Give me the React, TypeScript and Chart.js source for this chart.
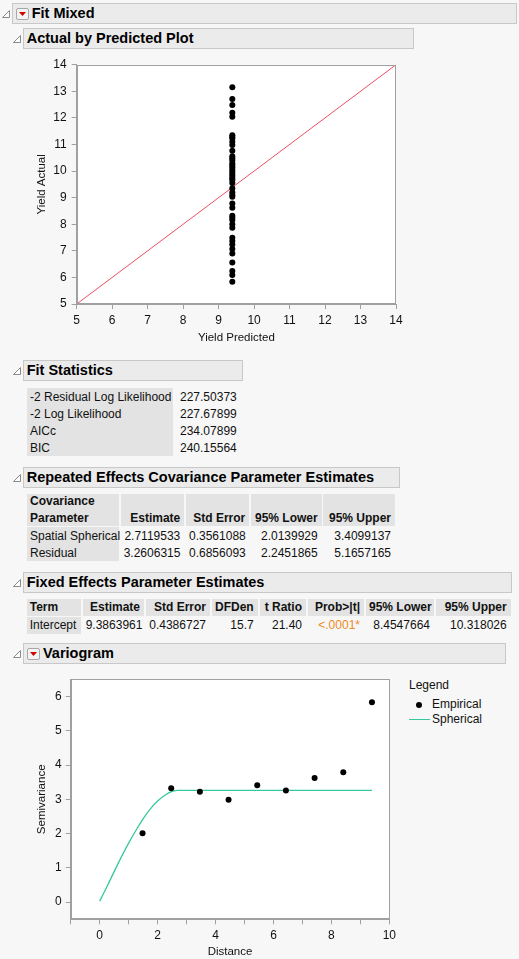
import { useEffect, useRef } from 'react'
import { Chart, registerables } from 'chart.js'

Chart.register(...registerables)

// Actual by Predicted: every row has the same predicted value (intercept-only model)
const predictedYield = 9.3863961
const actualYield = [
  13.15, 12.71, 12.48, 12.19, 12.04, 11.35, 11.29, 11.23, 11.1, 10.98, 10.76,
  10.56, 10.48, 10.41, 10.29, 10.22, 10.14, 10.05, 9.97, 9.89, 9.81, 9.73,
  9.66, 9.55, 9.35, 9.2, 9.1, 9.03, 8.78, 8.62, 8.32, 8.24, 8.16, 8.0, 7.87,
  7.49, 7.37, 7.24, 7.07, 6.9, 6.56, 6.24, 6.09, 5.84,
]
const fitLine = [5, 14]

// Variogram
const empiricalDistance = [1.48, 2.47, 3.46, 4.45, 5.44, 6.43, 7.42, 8.41, 9.4]
const empiricalSemivariance = [2.01, 3.32, 3.22, 2.99, 3.41, 3.26, 3.62, 3.79, 5.83]
const sphericalDistance = [0, 0.25, 0.5, 0.75, 1, 1.25, 1.5, 1.75, 2, 2.25, 2.5, 2.7, 9.4]
const sphericalSemivariance = [0.03, 0.45, 0.89, 1.32, 1.72, 2.09, 2.43, 2.72, 2.95, 3.12, 3.23, 3.26, 3.26]
const semivarianceTicks = [0, 1, 2, 3, 4, 5, 6]

// Fit Statistics
const fitStatLabels = ['-2 Residual Log Likelihood', '-2 Log Likelihood', 'AICc', 'BIC']
const fitStatValues = ['227.50373', '227.67899', '234.07899', '240.15564']

// Repeated Effects Covariance Parameter Estimates
const covParams = ['Spatial Spherical', 'Residual']
const covEstimate = ['2.7119533', '3.2606315']
const covStdError = ['0.3561088', '0.6856093']
const covLower = ['2.0139929', '2.2451865']
const covUpper = ['3.4099137', '5.1657165']

// Fixed Effects Parameter Estimates
const fixedTerms = ['Intercept']
const fixedEstimate = ['9.3863961']
const fixedStdError = ['0.4386727']
const fixedDFDen = ['15.7']
const fixedTRatio = ['21.40']
const fixedProb = ['<.0001*']
const fixedLower = ['8.4547664']
const fixedUpper = ['10.318026']

const FONT = '"Liberation Sans", Arial, sans-serif'
const PAGE_BG = '#F7F7F7'
const CELL_BG = '#E3E3E3'
const AXIS = '#A0A0A0'

const framePlugin = {
  id: 'frame',
  beforeDraw(chart: any) {
    const { ctx, chartArea } = chart
    ctx.save()
    ctx.fillStyle = '#fff'
    ctx.fillRect(chartArea.left, chartArea.top, chartArea.width, chartArea.height)
    ctx.restore()
  },
  afterDraw(chart: any) {
    const { ctx, chartArea } = chart
    ctx.save()
    ctx.strokeStyle = AXIS
    ctx.lineWidth = 1
    ctx.strokeRect(
      Math.round(chartArea.left) + 0.5,
      Math.round(chartArea.top) + 0.5,
      Math.round(chartArea.width) - 1,
      Math.round(chartArea.height) - 1
    )
    ctx.restore()
  },
}

function axis(opts: any) {
  return {
    type: 'linear',
    min: opts.min,
    max: opts.max,
    ticks: {
      stepSize: 1,
      color: '#111',
      padding: opts.tickPad,
      font: { family: FONT, size: 12 },
      callback: opts.callback,
    },
    grid: { drawOnChartArea: false, color: AXIS, tickLength: 5 },
    border: { color: AXIS },
    title: {
      display: true,
      text: opts.title,
      color: '#111',
      font: { family: FONT, size: 11.5 },
      padding: opts.titlePad,
    },
    afterFit: opts.afterFit,
    afterBuildTicks: opts.tickValues
      ? (s: any) => {
          s.ticks = opts.tickValues.map((value: number) => ({ value }))
        }
      : undefined,
  }
}

function ActualByPredicted() {
  const canvasRef = useRef<HTMLCanvasElement>(null)

  useEffect(() => {
    if (!canvasRef.current) return
    const chart = new Chart(canvasRef.current, {
      type: 'scatter',
      data: {
        datasets: [
          {
            type: 'line',
            data: fitLine.map((v) => ({ x: v, y: v })),
            borderColor: '#EC4E62',
            borderWidth: 1,
            pointRadius: 0,
            order: 2,
          },
          {
            data: actualYield.map((y) => ({ x: predictedYield, y })),
            backgroundColor: '#000',
            borderWidth: 0,
            pointRadius: 3,
            order: 1,
          },
        ] as any,
      },
      options: {
        responsive: false,
        animation: false,
        layout: { padding: { top: 14.7, right: 24, left: 0, bottom: 0 } },
        plugins: { legend: { display: false }, tooltip: { enabled: false } },
        scales: {
          x: axis({
            min: 5,
            max: 14,
            title: 'Yield Predicted',
            tickPad: 4,
            titlePad: { top: 0, bottom: 5.5 },
            afterFit: (s: any) => { s.height = 46 },
          }),
          y: axis({
            min: 5,
            max: 14,
            title: 'Yield Actual',
            tickPad: 5,
            titlePad: { top: 34.8, bottom: 0 },
            afterFit: (s: any) => { s.width = 76.7 },
          }),
        } as any,
      },
      plugins: [framePlugin],
    })
    return () => chart.destroy()
  }, [])

  return (
    <canvas
      ref={canvasRef}
      width={420}
      height={300}
      style={{ position: 'absolute', left: 0, top: 50, width: 420, height: 300 }}
    />
  )
}

function Variogram() {
  const canvasRef = useRef<HTMLCanvasElement>(null)

  useEffect(() => {
    if (!canvasRef.current) return
    const chart = new Chart(canvasRef.current, {
      type: 'scatter',
      data: {
        datasets: [
          {
            type: 'line',
            data: sphericalDistance.map((x, i) => ({ x, y: sphericalSemivariance[i] })),
            borderColor: '#36C9A0',
            borderWidth: 1.3,
            pointRadius: 0,
            cubicInterpolationMode: 'monotone',
            order: 2,
          },
          {
            data: empiricalDistance.map((x, i) => ({ x, y: empiricalSemivariance[i] })),
            backgroundColor: '#000',
            borderWidth: 0,
            pointRadius: 3,
            order: 1,
          },
        ] as any,
      },
      options: {
        responsive: false,
        animation: false,
        layout: { padding: { top: 14.3, right: 10, left: 0, bottom: 0 } },
        plugins: { legend: { display: false }, tooltip: { enabled: false } },
        scales: {
          x: axis({
            min: -1,
            max: 10,
            title: 'Distance',
            tickPad: 4,
            titlePad: { top: 0, bottom: 0 },
            callback: (v: number) => (v >= 0 && v % 2 === 0 ? String(v) : ''),
            afterFit: (s: any) => { s.height = 39.7 },
          }),
          y: axis({
            min: -0.5,
            max: 6.5,
            title: 'Semivariance',
            tickPad: 4,
            titlePad: { top: 34.5, bottom: 0 },
            tickValues: semivarianceTicks,
            afterFit: (s: any) => { s.width = 70.7 },
          }),
        } as any,
      },
      plugins: [framePlugin],
    })
    return () => chart.destroy()
  }, [])

  return (
    <canvas
      ref={canvasRef}
      width={400}
      height={294}
      style={{ position: 'absolute', left: 0, top: 665, width: 400, height: 294 }}
    />
  )
}

function Triangle({ x, y }: { x: number; y: number }) {
  return (
    <svg width={9} height={9} style={{ position: 'absolute', left: x, top: y }}>
      <polygon points="7.5,0.5 7.5,7.5 0.5,7.5" fill="#fff" stroke="#8A8A8A" strokeWidth={1} />
    </svg>
  )
}

function MenuButton({ x, y }: { x: number; y: number }) {
  return (
    <div
      style={{
        position: 'absolute',
        left: x,
        top: y,
        width: 13,
        height: 12,
        boxSizing: 'border-box',
        border: '1px solid #A8A8A8',
        borderRadius: 2,
        background: '#F4F4F4',
      }}
    >
      <svg width={11} height={10} style={{ position: 'absolute', left: 0, top: 0 }}>
        <polygon points="2,3 9,3 5.5,7" fill="#D40000" />
      </svg>
    </div>
  )
}

function Header(props: { x: number; y: number; w: number; title: string; menu?: boolean }) {
  const { x, y, w, title, menu } = props
  return (
    <>
      <Triangle x={x - 10} y={y + 7} />
      <div
        style={{
          position: 'absolute',
          left: x,
          top: y,
          width: w,
          height: 21,
          boxSizing: 'border-box',
          background: '#EBEBEB',
          border: '1px solid #C8C8C8',
          font: `bold 14.5px ${FONT}`,
          lineHeight: '19px',
          paddingLeft: menu ? 19 : 2.7,
          whiteSpace: 'nowrap',
          color: '#000',
        }}
      >
        {title}
      </div>
      {menu && <MenuButton x={x + 4} y={y + 5} />}
    </>
  )
}

function Cell(props: {
  x: number
  y: number
  w: number
  h: number
  text: string
  bg?: string
  align?: 'left' | 'right'
  bold?: boolean
  color?: string
  lh?: number
}) {
  const { x, y, w, h, text, bg, align = 'right', bold, color = '#111', lh = h } = props
  return (
    <div
      style={{
        position: 'absolute',
        left: x,
        top: y,
        width: w,
        height: h,
        boxSizing: 'border-box',
        background: bg,
        font: `${bold ? 'bold ' : ''}12px ${FONT}`,
        lineHeight: `${lh}px`,
        textAlign: align,
        paddingLeft: 3,
        paddingRight: 4,
        whiteSpace: 'pre',
        color,
        display: 'flex',
        flexDirection: 'column',
        justifyContent: 'flex-end',
      }}
    >
      <span>{text}</span>
    </div>
  )
}

function FitStatistics() {
  return (
    <>
      <div style={{ position: 'absolute', left: 27, top: 388, width: 146, height: 68, background: CELL_BG }} />
      {fitStatLabels.map((label, i) => (
        <Cell key={label} x={27} y={389 + i * 16.9} w={146} h={17} text={label} align="left" />
      ))}
      {fitStatValues.map((v, i) => (
        <Cell key={v + i} x={177} y={389 + i * 16.9} w={80} h={17} text={v} align="left" />
      ))}
    </>
  )
}

function CovarianceTable() {
  const cols = [
    { x: 27, w: 92.3 },
    { x: 120.7, w: 63.6 },
    { x: 186, w: 63.3 },
    { x: 251, w: 70.7 },
    { x: 323.3, w: 71.7 },
  ]
  const heads = ['Covariance\nParameter', 'Estimate', 'Std Error', '95% Lower', '95% Upper']
  const columns = [covParams, covEstimate, covStdError, covLower, covUpper]
  return (
    <>
      {heads.map((h, c) => (
        <Cell
          key={h}
          x={cols[c].x}
          y={494.3}
          w={cols[c].w}
          h={31.7}
          lh={16.3}
          text={h}
          bg={CELL_BG}
          bold
          align={c === 0 ? 'left' : 'right'}
        />
      ))}
      <div style={{ position: 'absolute', left: 27, top: 527, width: 92.3, height: 34, background: CELL_BG }} />
      {columns.map((col, c) =>
        col.map((v, r) => (
          <Cell
            key={`${c}-${r}`}
            x={cols[c].x}
            y={528 + r * 17.3}
            w={cols[c].w}
            h={17}
            text={v}
            align={c === 0 ? 'left' : 'right'}
          />
        ))
      )}
    </>
  )
}

function FixedEffectsTable() {
  const cols = [
    { x: 26.7, w: 54.3 },
    { x: 82.7, w: 61.3 },
    { x: 146, w: 64 },
    { x: 212, w: 45.7 },
    { x: 260, w: 46 },
    { x: 308, w: 56 },
    { x: 366, w: 68 },
    { x: 436, w: 74.7 },
  ]
  const heads = ['Term', 'Estimate', 'Std Error', 'DFDen', 't Ratio', 'Prob>|t|', '95% Lower', '95% Upper']
  const columns = [
    fixedTerms,
    fixedEstimate,
    fixedStdError,
    fixedDFDen,
    fixedTRatio,
    fixedProb,
    fixedLower,
    fixedUpper,
  ]
  return (
    <>
      {heads.map((h, c) => (
        <Cell
          key={h}
          x={cols[c].x}
          y={599.3}
          w={cols[c].w}
          h={16.4}
          text={h}
          bg={CELL_BG}
          bold
          align={c === 0 ? 'left' : 'right'}
        />
      ))}
      {columns.map((col, c) =>
        col.map((v, r) => (
          <Cell
            key={`${c}-${r}`}
            x={cols[c].x}
            y={617 + r * 17}
            w={cols[c].w}
            h={16.5}
            text={v}
            bg={c === 0 ? CELL_BG : undefined}
            color={c === 5 ? '#EE8A1C' : '#111'}
            align={c === 0 ? 'left' : 'right'}
          />
        ))
      )}
    </>
  )
}

function VariogramLegend() {
  const text = { position: 'absolute' as const, font: `12px ${FONT}`, color: '#111', lineHeight: '15px' }
  return (
    <>
      <div style={{ ...text, left: 409, top: 678 }}>Legend</div>
      <div
        style={{
          position: 'absolute',
          left: 416,
          top: 701.7,
          width: 6,
          height: 6,
          borderRadius: 3,
          background: '#000',
        }}
      />
      <div style={{ ...text, left: 432, top: 697 }}>Empirical</div>
      <div style={{ position: 'absolute', left: 409, top: 719, width: 21, height: 1.3, background: '#36C9A0' }} />
      <div style={{ ...text, left: 432, top: 712 }}>Spherical</div>
    </>
  )
}

export default function App() {
  return (
    <div
      style={{
        position: 'absolute',
        left: 0,
        top: 0,
        width: 519,
        height: 959,
        overflow: 'hidden',
        background: PAGE_BG,
        fontFamily: FONT,
      }}
    >
      <Header x={11.7} y={3.3} w={505.5} title="Fit Mixed" menu />
      <Header x={23} y={28} w={391} title="Actual by Predicted Plot" />
      <ActualByPredicted />
      <Header x={23} y={360} w={220} title="Fit Statistics" />
      <FitStatistics />
      <Header x={23} y={466.7} w={377} title="Repeated Effects Covariance Parameter Estimates" />
      <CovarianceTable />
      <Header x={23} y={572} w={489} title="Fixed Effects Parameter Estimates" />
      <FixedEffectsTable />
      <Header x={23} y={643.3} w={483} title="Variogram" menu />
      <Variogram />
      <VariogramLegend />
    </div>
  )
}
